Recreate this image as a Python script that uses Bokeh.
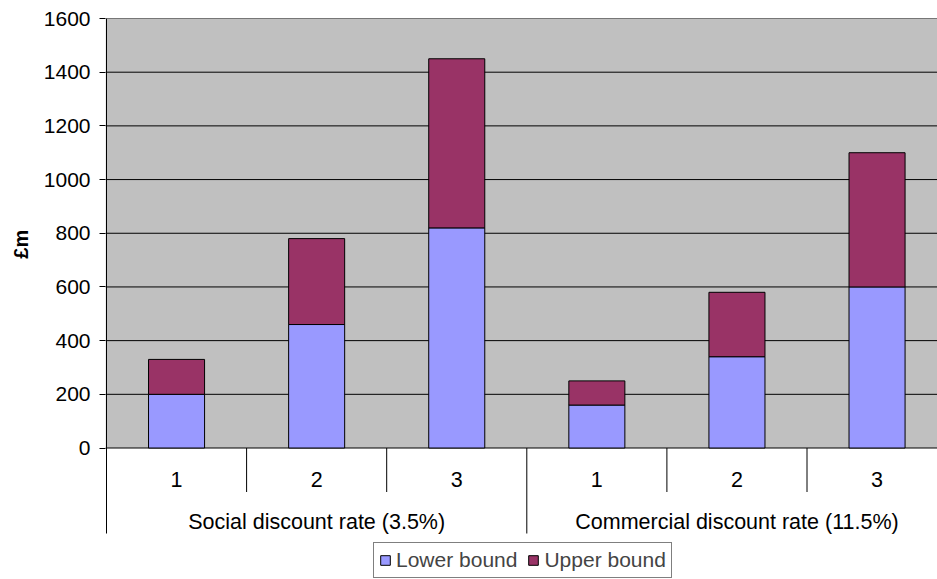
from bokeh.plotting import figure
from bokeh.layouts import row
from bokeh.models import (ColumnDataSource, Range1d, FixedTicker, Legend, LegendItem)
from bokeh.core.properties import value
from bokeh.embed import file_html
from bokeh.resources import INLINE

# --- data -------------------------------------------------------------
groups = ["Social discount rate (3.5%)", "Commercial discount rate (11.5%)"]
scenarios = ["1", "2", "3"]
lower_bound = [200, 460, 820, 160, 340, 600]
upper_bound = [130, 320, 630, 90, 240, 500]   # added on top of the lower bound
y_ticks = [0, 200, 400, 600, 800, 1000, 1200, 1400, 1600]
y_title = "£m"

# --- layout helpers (pixel geometry of the canvas) ----------------------
W, H = 937, 579
TITLE_W = 40                          # strip on the left holding the y title
FRAME_LEFT = 105                      # frame edge, measured from the page left
FRAME_TOP = 18
ZERO_PX = 447.5                       # canvas row of the value 0
Y_MAX = 1600
UNITS_PER_PX = Y_MAX / (ZERO_PX - FRAME_TOP)
CAT_PX = 140.1                        # width of one category slot
FONT = "Liberation Sans"


def y_at(py):
    """Data value that lands on canvas row py."""
    return (ZERO_PX - py) * UNITS_PER_PX


x_start = -1.0 / CAT_PX
x_end = (W - FRAME_LEFT - 1) / CAT_PX
y_start = y_at(H)

n = len(lower_bound)
xs = [i + 0.5 for i in range(n)]
src = ColumnDataSource(dict(x=xs, lower=lower_bound, upper=upper_bound))

p = figure(width=W - TITLE_W, height=H, x_range=Range1d(x_start, x_end),
           y_range=Range1d(y_start, Y_MAX), output_backend="svg",
           toolbar_location=None, min_border_left=FRAME_LEFT - TITLE_W,
           min_border_right=0, min_border_top=FRAME_TOP, min_border_bottom=0)
p.outline_line_color = None
p.xgrid.visible = False
p.ygrid.visible = False
p.xaxis.visible = False
p.background_fill_color = "white"
p.border_fill_color = "white"

# y axis: ticks and labels only, the line is drawn below
ax = p.yaxis[0]
ax.ticker = FixedTicker(ticks=y_ticks)
ax.axis_line_color = None
ax.major_tick_out = 6
ax.major_tick_in = 0
ax.minor_tick_line_color = None
ax.major_tick_line_color = "black"
ax.major_label_text_font = FONT
ax.major_label_text_font_size = "21px"
ax.major_label_text_color = "black"
ax.major_label_standoff = 9

# grey plot area and gridlines
p.quad(left=x_start, right=x_end, bottom=0, top=Y_MAX,
       fill_color="#C0C0C0", line_color=None)
p.segment(x0=[x_start] * len(y_ticks), x1=[x_end] * len(y_ticks),
          y0=y_ticks, y1=y_ticks, line_color="black", line_width=1)

# stacked bars
r = p.vbar_stack(["lower", "upper"], x="x", width=0.4, source=src,
                 fill_color=["#9999FF", "#993366"], line_color="black",
                 line_width=1)

# category axis: separators and labels
bottom_long = y_at(533)
bottom_short = y_at(491.5)
p.segment(x0=[0], x1=[0], y0=[bottom_long], y1=[Y_MAX],
          line_color="black", line_width=1)
sep_x = [1, 2, 3, 4, 5]
sep_bottom = [bottom_short, bottom_short, bottom_long, bottom_short, bottom_short]
p.segment(x0=sep_x, x1=sep_x, y0=[0] * len(sep_x), y1=sep_bottom,
          line_color="black", line_width=1)

p.text(x=xs, y=[y_at(479)] * n, text=scenarios * len(groups),
       text_font=value(FONT), text_font_size="21.5px", text_color="black",
       text_align="center", text_baseline="middle")
p.text(x=[1.5, 4.5], y=[y_at(521)] * 2, text=groups,
       text_font=value(FONT), text_font_size="21.5px", text_color="black",
       text_align="center", text_baseline="middle")

legend = Legend(items=[LegendItem(label="Lower bound", renderers=[r[0]]),
                       LegendItem(label="Upper bound", renderers=[r[1]])],
                orientation="horizontal", location=(373 - FRAME_LEFT, 1),
                label_text_font=FONT, label_text_font_size="21px",
                glyph_width=12, glyph_height=12, label_standoff=5,
                spacing=10, padding=5, margin=0, label_height=18,
                border_line_color="black", border_line_width=1,
                background_fill_color="white", background_fill_alpha=1)
p.add_layout(legend)

# narrow strip carrying the rotated y-axis title, in pixel coordinates
t = figure(width=TITLE_W, height=H, x_range=Range1d(0, TITLE_W),
           y_range=Range1d(H, 0), output_backend="svg", toolbar_location=None,
           min_border=0)
t.axis.visible = False
t.grid.visible = False
t.outline_line_color = None
t.text(x=[20], y=[233], text=[y_title], angle=1.5708,
       text_font=value(FONT), text_font_size="20px",
       text_font_style="bold", text_color="black",
       text_align="center", text_baseline="middle")

layout = row(t, p, spacing=0)
open("out.html", "w").write(file_html(layout, INLINE))
